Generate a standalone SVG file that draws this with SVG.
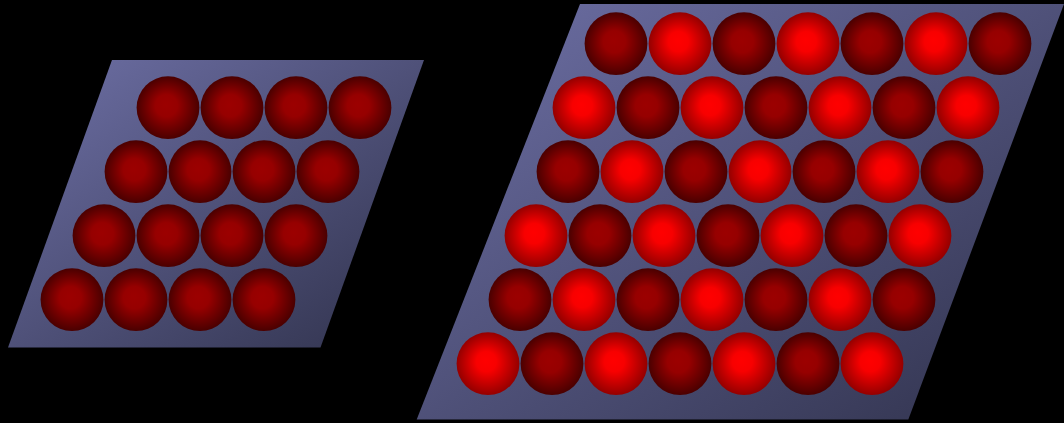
<svg xmlns="http://www.w3.org/2000/svg" width="1064" height="423" viewBox="0 0 1064 423">
<defs>
<linearGradient id="plate" x1="0" y1="0" x2="1" y2="1">
<stop offset="0" stop-color="#6e70a6"/>
<stop offset="1" stop-color="#30324c"/>
</linearGradient>
<radialGradient id="bright" cx="0.5" cy="0.5" r="0.5" fx="0.46" fy="0.45">
<stop offset="0" stop-color="#ff0000"/>
<stop offset="0.32" stop-color="#f80000"/>
<stop offset="1" stop-color="#940000"/>
</radialGradient>
<radialGradient id="dark" cx="0.5" cy="0.5" r="0.5" fx="0.46" fy="0.45">
<stop offset="0" stop-color="#9c0000"/>
<stop offset="0.35" stop-color="#960000"/>
<stop offset="1" stop-color="#4a0000"/>
</radialGradient>
</defs>
<style>
.b{fill:url(#bright)}
.d{fill:url(#dark)}
</style>
<rect width="1064" height="423" fill="#000"/>
<g id="plate-small">
<polygon points="112,60 424,60 320.5,347.5 8,347.5" fill="url(#plate)"/>
<g>
<circle class="d" cx="168" cy="107.7" r="31.4"/><circle class="d" cx="232" cy="107.7" r="31.4"/><circle class="d" cx="296" cy="107.7" r="31.4"/><circle class="d" cx="360" cy="107.7" r="31.4"/>
<circle class="d" cx="136" cy="171.7" r="31.4"/><circle class="d" cx="200" cy="171.7" r="31.4"/><circle class="d" cx="264" cy="171.7" r="31.4"/><circle class="d" cx="328" cy="171.7" r="31.4"/>
<circle class="d" cx="104" cy="235.7" r="31.4"/><circle class="d" cx="168" cy="235.7" r="31.4"/><circle class="d" cx="232" cy="235.7" r="31.4"/><circle class="d" cx="296" cy="235.7" r="31.4"/>
<circle class="d" cx="72" cy="299.7" r="31.4"/><circle class="d" cx="136" cy="299.7" r="31.4"/><circle class="d" cx="200" cy="299.7" r="31.4"/><circle class="d" cx="264" cy="299.7" r="31.4"/>
</g>
</g>
<g id="plate-large">
<polygon points="580,4 1064,4 908.3,419.5 416.7,419.5" fill="url(#plate)"/>
<g>
<circle class="d" cx="616" cy="43.7" r="31.4"/><circle class="b" cx="680" cy="43.7" r="31.4"/><circle class="d" cx="744" cy="43.7" r="31.4"/><circle class="b" cx="808" cy="43.7" r="31.4"/><circle class="d" cx="872" cy="43.7" r="31.4"/><circle class="b" cx="936" cy="43.7" r="31.4"/><circle class="d" cx="1000" cy="43.7" r="31.4"/>
<circle class="b" cx="584" cy="107.7" r="31.4"/><circle class="d" cx="648" cy="107.7" r="31.4"/><circle class="b" cx="712" cy="107.7" r="31.4"/><circle class="d" cx="776" cy="107.7" r="31.4"/><circle class="b" cx="840" cy="107.7" r="31.4"/><circle class="d" cx="904" cy="107.7" r="31.4"/><circle class="b" cx="968" cy="107.7" r="31.4"/>
<circle class="d" cx="568" cy="171.7" r="31.4"/><circle class="b" cx="632" cy="171.7" r="31.4"/><circle class="d" cx="696" cy="171.7" r="31.4"/><circle class="b" cx="760" cy="171.7" r="31.4"/><circle class="d" cx="824" cy="171.7" r="31.4"/><circle class="b" cx="888" cy="171.7" r="31.4"/><circle class="d" cx="952" cy="171.7" r="31.4"/>
<circle class="b" cx="536" cy="235.7" r="31.4"/><circle class="d" cx="600" cy="235.7" r="31.4"/><circle class="b" cx="664" cy="235.7" r="31.4"/><circle class="d" cx="728" cy="235.7" r="31.4"/><circle class="b" cx="792" cy="235.7" r="31.4"/><circle class="d" cx="856" cy="235.7" r="31.4"/><circle class="b" cx="920" cy="235.7" r="31.4"/>
<circle class="d" cx="520" cy="299.7" r="31.4"/><circle class="b" cx="584" cy="299.7" r="31.4"/><circle class="d" cx="648" cy="299.7" r="31.4"/><circle class="b" cx="712" cy="299.7" r="31.4"/><circle class="d" cx="776" cy="299.7" r="31.4"/><circle class="b" cx="840" cy="299.7" r="31.4"/><circle class="d" cx="904" cy="299.7" r="31.4"/>
<circle class="b" cx="488" cy="363.7" r="31.4"/><circle class="d" cx="552" cy="363.7" r="31.4"/><circle class="b" cx="616" cy="363.7" r="31.4"/><circle class="d" cx="680" cy="363.7" r="31.4"/><circle class="b" cx="744" cy="363.7" r="31.4"/><circle class="d" cx="808" cy="363.7" r="31.4"/><circle class="b" cx="872" cy="363.7" r="31.4"/>
</g>
</g>
</svg>
